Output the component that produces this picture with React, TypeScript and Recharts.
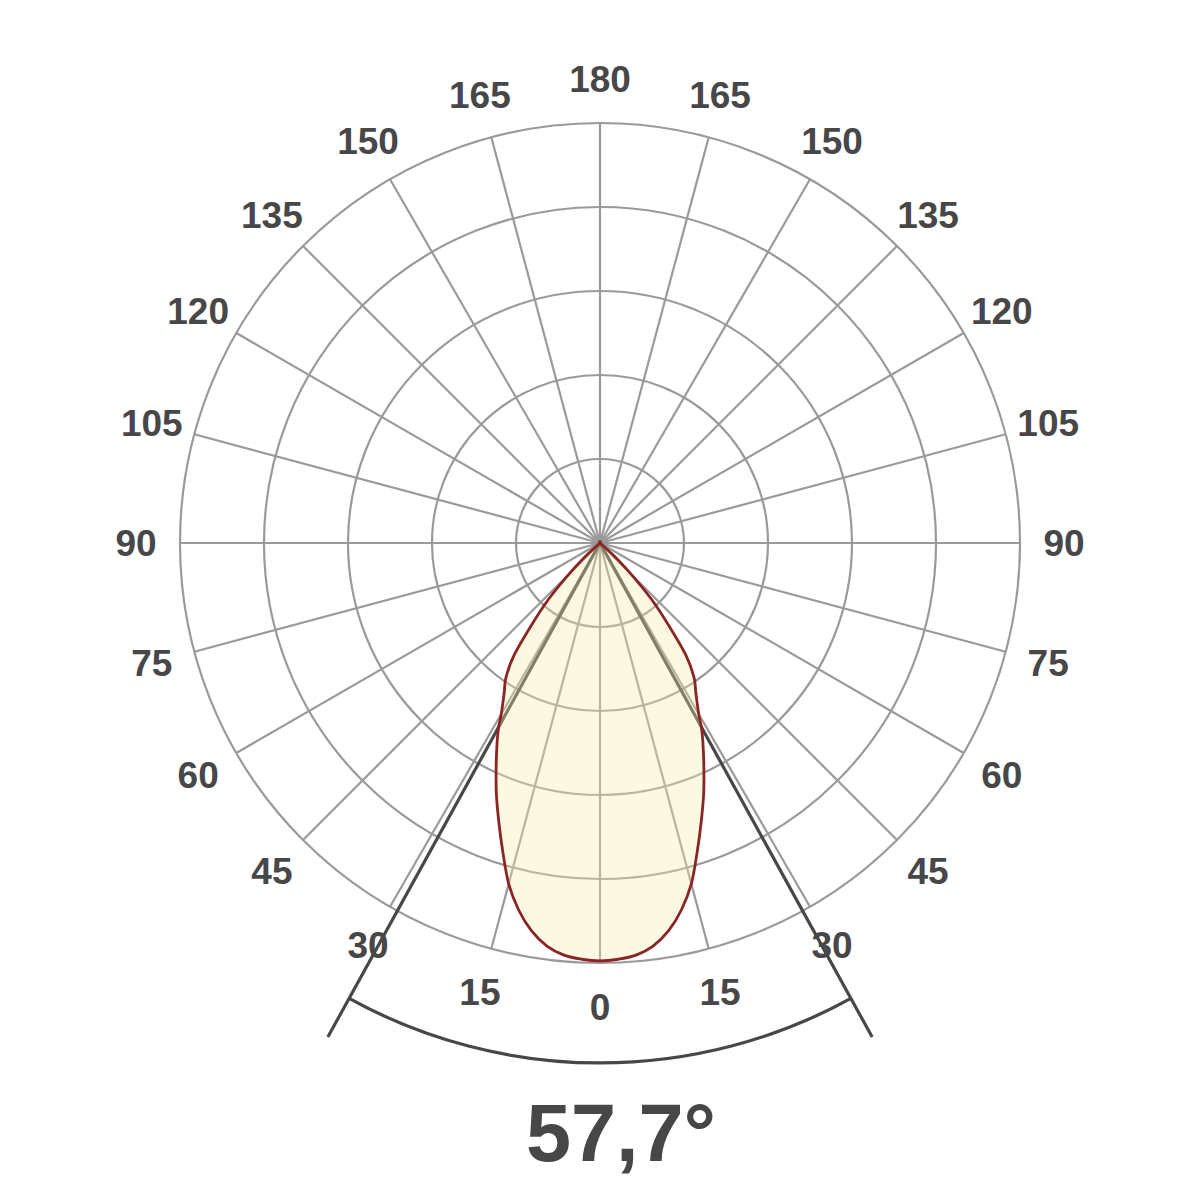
import React from "react";
import { RadarChart, Radar, PolarGrid, PolarAngleAxis, PolarRadiusAxis } from "recharts";

// the page has an 8px body margin by default; drop it so the chart sits at 0,0
document.body.style.margin = "0";

// half-plane luminous intensity (% of max) vs. gamma angle
const GAMMA = [0, 2.5, 5, 7.5, 10, 12.5, 15, 17.5, 20, 22.5, 25, 27.5, 28.85, 30, 32.5, 35, 37.5, 40, 42.5, 45, 47.5, 50];
const INTENSITY = [99.5, 99.2, 98.5, 96.8, 93.8, 89.5, 84, 77, 70.5, 64.5, 58.5, 53, 50, 47, 42.5, 39, 33.5, 25, 18, 10, 4, 0];

const ANGLE_TICKS = [0, 15, 30, 45, 60, 75, 90, 105, 120, 135, 150, 165, 180, 195, 210, 225, 240, 255, 270, 285, 300, 315, 330, 345];

// beam angle annotation (full angle), ray length and arc radius in the same % units
const BEAM_ANGLE = 57.7;
const BEAM_RAY = 134.3;
const BEAM_ARC = 123.8;

const CX = 600;
const CY = 543;
const OUTER = 420;
const LABEL_GAP = 44;

const INK = "#474747";
const GRID = "#9a9a9a";
const CURVE = "#8b2525";

type Row = { angle: number; intensity: number; ray?: number };

const half = BEAM_ANGLE / 2;
const rows: Row[] = [
  // the distribution is symmetric, so the left side mirrors the right
  ...GAMMA.slice(1)
    .map((g, i) => ({ g, v: INTENSITY[i + 1] }))
    .reverse()
    .map(({ g, v }) => ({ angle: 360 - g, intensity: v, ray: g === half ? BEAM_RAY : undefined })),
  ...GAMMA.map((g, i) => ({ angle: g, intensity: INTENSITY[i], ray: g === half ? BEAM_RAY : undefined })),
];

function AngleTick(props: any) {
  const { payload } = props;
  const cx = props.cx ?? CX;
  const cy = props.cy ?? CY;
  const rad = (-payload.coordinate * Math.PI) / 180;
  const r = (props.radius ?? OUTER) + LABEL_GAP;
  const v = Number(payload.value);
  return (
    <text
      x={cx + r * Math.cos(rad)}
      y={cy + r * Math.sin(rad)}
      dy="0.36em"
      textAnchor="middle"
      fontFamily="'Liberation Sans', Arial, sans-serif"
      fontWeight="bold"
      fontSize={37}
      fill={INK}
    >
      {v <= 180 ? v : 360 - v}
    </text>
  );
}

// closed Catmull-Rom through the points the radar computed, so the lobe reads as a curve
function SmoothLobe(props: any) {
  const pts = (props.points || []).filter((p: any) => Number.isFinite(p.x) && Number.isFinite(p.y));
  if (pts.length < 3) return null;
  const n = pts.length;
  let d = `M${pts[0].x},${pts[0].y}`;
  for (let i = 0; i < n; i++) {
    const p0 = pts[(i - 1 + n) % n];
    const p1 = pts[i];
    const p2 = pts[(i + 1) % n];
    const p3 = pts[(i + 2) % n];
    const c1x = p1.x + (p2.x - p0.x) / 6;
    const c1y = p1.y + (p2.y - p0.y) / 6;
    const c2x = p2.x - (p3.x - p1.x) / 6;
    const c2y = p2.y - (p3.y - p1.y) / 6;
    d += ` C${c1x},${c1y} ${c2x},${c2y} ${p2.x},${p2.y}`;
  }
  d += " Z";
  return (
    <path
      d={d}
      fill={props.fill}
      fillOpacity={props.fillOpacity}
      stroke={props.stroke}
      strokeWidth={props.strokeWidth}
      strokeLinejoin="round"
    />
  );
}

// rays at +/- half the beam angle, the arc between them and the value below
function BeamShape(props: any) {
  const pts = (props.points || []).filter((p: any) => p.value != null && Number.isFinite(p.x));
  if (pts.length < 2) return null;
  const [a, b] = pts;
  const { cx, cy } = a;
  const k = BEAM_ARC / BEAM_RAY;
  const rArc = a.radius * k;
  const ax = cx + (a.x - cx) * k;
  const ay = cy + (a.y - cy) * k;
  const bx = cx + (b.x - cx) * k;
  const by = cy + (b.y - cy) * k;
  return (
    <g>
      <line x1={cx} y1={cy} x2={a.x} y2={a.y} stroke={INK} strokeWidth={3.2} />
      <line x1={cx} y1={cy} x2={b.x} y2={b.y} stroke={INK} strokeWidth={3.2} />
      <path d={`M${ax},${ay} A${rArc},${rArc} 0 0 0 ${bx},${by}`} fill="none" stroke={INK} strokeWidth={3.2} />
      <text
        x={cx + 21}
        y={cy + rArc + 98}
        textAnchor="middle"
        fontFamily="'Liberation Sans', Arial, sans-serif"
        fontWeight="bold"
        fontSize={81}
        fill={INK}
      >
        {`${String(BEAM_ANGLE).replace(".", ",")}°`}
      </text>
    </g>
  );
}

export default function App() {
  return (
    <div style={{ width: 1200, height: 1200, background: "#fff" }}>
      <RadarChart
        width={1200}
        height={1200}
        data={rows}
        cx={CX}
        cy={CY}
        outerRadius={OUTER}
        startAngle={-90}
        endAngle={270}
        margin={{ top: 0, right: 0, bottom: 0, left: 0 }}
      >
        <PolarGrid gridType="circle" stroke={GRID} strokeWidth={2.2} />
        <PolarAngleAxis
          dataKey="angle"
          type="number"
          domain={[0, 360]}
          ticks={ANGLE_TICKS}
          tick={AngleTick}
          axisLine={false}
          tickLine={false}
        />
        <PolarRadiusAxis domain={[0, 100]} tickCount={6} allowDataOverflow tick={false} axisLine={false} />
        <Radar dataKey="ray" shape={BeamShape} isAnimationActive={false} dot={false} />
        <Radar
          dataKey="intensity"
          stroke={CURVE}
          strokeWidth={2.8}
          fill="#f6eeaa"
          fillOpacity={0.34}
          shape={SmoothLobe}
          dot={false}
          isAnimationActive={false}
        />
      </RadarChart>
    </div>
  );
}
